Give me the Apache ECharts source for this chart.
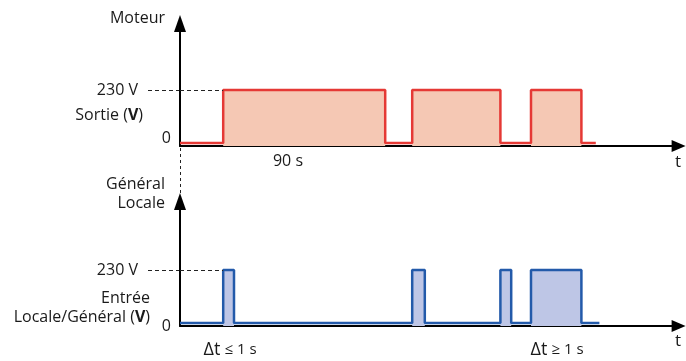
<!DOCTYPE html>
<html><head><meta charset="utf-8">
<script src="https://cdn.jsdelivr.net/npm/echarts@6/dist/echarts.min.js"></script>
<style>html,body{margin:0;padding:0;background:#fff}#c{width:686px;height:361px}</style>
</head><body><div id="c"></div>
<script>
// Motor output (top): transition times (s) and level held from that time
const motorTimes = [0, 24, 114, 129, 178, 195, 223, 231];
const motorLevels = [12, 230, 12, 230, 12, 230, 12, 12];
// Input Locale/Général (bottom)
const inputTimes = [0, 24, 30, 129, 136, 178, 184, 195, 223, 233];
const inputLevels = [12, 230, 12, 230, 12, 230, 12, 230, 12, 12];
const highLevel = 230;
const yTickLabels = ['0'];
const levelLabel = '230 V';

const FONT = '"Open Sans"';
const TXT = '#1a1a1a';
const FS = 16;
const toPts = (ts, vs) => ts.map((t, i) => [t, vs[i]]);
const toFill = (ts, vs) => ts.map((t, i) => [t, vs[i] === highLevel ? highLevel : 0]);

function xAx(gi){
  return {gridIndex: gi, type:'value', min:0, max:277,
    axisLine:{lineStyle:{color:'#000', width:2}, symbol:['none','triangle'], symbolSize:[12,14]},
    axisTick:{show:false}, axisLabel:{show:false}, splitLine:{show:false}};
}
function yAx(gi, max, va){
  return {gridIndex: gi, type:'value', min:0, max:max, interval:230,
    axisLine:{lineStyle:{color:'#000', width:2}, symbol:['none','triangle'], symbolSize:[12,17]},
    axisTick:{show:false}, splitLine:{show:false},
    axisLabel:{margin:9, color:TXT, fontFamily:'Open Sans', fontSize:FS, verticalAlign:va,
      formatter: v => v === 0 ? yTickLabels[0] : ''}};
}
function dashed(riseT){
  return {symbol:['none','none'], silent:true,
    lineStyle:{type:[4,3], color:'#222', width:1},
    label:{show:false},
    data:[[{coord:[0, highLevel]}, {coord:[riseT, highLevel]}]]};
}

const chart = echarts.init(document.getElementById('c'), null, {renderer:'canvas'});
chart.setOption({
  animation:false,
  grid:[
    {left:180, width:498.6, top:23.5, height:122.5},
    {left:180, width:498.6, top:201.5, height:124.5}
  ],
  xAxis:[xAx(0), xAx(1)],
  yAxis:[yAx(0, 503, 'bottom'), yAx(1, 511, 'middle')],
  series:[
    {type:'line', xAxisIndex:0, yAxisIndex:0, step:'end', symbol:'none',
      data: toFill(motorTimes, motorLevels), lineStyle:{width:0},
      areaStyle:{color:'#f5c8b4', opacity:1}, z:1},
    {type:'line', xAxisIndex:0, yAxisIndex:0, step:'end', symbol:'none',
      data: toPts(motorTimes, motorLevels), lineStyle:{width:2.5, color:'#e53935'}, z:3,
      markLine: dashed(motorTimes[1])},
    {type:'line', xAxisIndex:1, yAxisIndex:1, step:'end', symbol:'none',
      data: toFill(inputTimes, inputLevels), lineStyle:{width:0},
      areaStyle:{color:'#bec6e6', opacity:1}, z:1},
    {type:'line', xAxisIndex:1, yAxisIndex:1, step:'end', symbol:'none',
      data: toPts(inputTimes, inputLevels), lineStyle:{width:2.5, color:'#235aaa'}, z:3,
      markLine: dashed(inputTimes[1])}
  ]
});

// dashed extension of the 230 V level left of the y axis, plus its label
const pTop = chart.convertToPixel({gridIndex:0}, [0, highLevel]);
const pBot = chart.convertToPixel({gridIndex:1}, [0, highLevel]);
const pTopZero = chart.convertToPixel({gridIndex:0}, [0, 0]);
const pBotTop = chart.convertToPixel({gridIndex:1}, [0, 511]);
const dashStyle = {stroke:'#222', lineWidth:1, lineDash:[4,3]};
const t = (x, y, text, align, size, extra) => Object.assign({type:'text', x, y,
  style:Object.assign({text, align, verticalAlign:'middle', fill:TXT, font:size+'px '+FONT}, extra||{})});
const bold = {rich:{b:{fontWeight:'bold', fontSize:FS, fontFamily:'Open Sans', fill:TXT}}};
const delta = {rich:{a:{fontSize:18, fontFamily:'Open Sans', fill:TXT}, s:{fontSize:15, fontFamily:'Open Sans', fill:TXT}}};

chart.setOption({
  graphic:[
    {type:'line', shape:{x1:pTop[0]-32, y1:Math.round(pTop[1])+0.5, x2:pTop[0], y2:Math.round(pTop[1])+0.5}, style:dashStyle},
    {type:'line', shape:{x1:pBot[0]-32, y1:Math.round(pBot[1])+0.5, x2:pBot[0], y2:Math.round(pBot[1])+0.5}, style:dashStyle},
    {type:'line', shape:{x1:pTopZero[0]+0.5, y1:pTopZero[1]+2, x2:pTopZero[0]+0.5, y2:pBotTop[1]-8}, style:{stroke:'#222', lineWidth:1, lineDash:[3,3]}},
    t(pTop[0]-42, pTop[1], levelLabel, 'right', FS),
    t(pBot[0]-42, pBot[1], levelLabel, 'right', FS),
    t(165, 18, 'Moteur', 'right', FS),
    t(143, 115, 'Sortie ({b|V})', 'right', FS, bold),
    t(288, 161, '90 s', 'center', FS),
    t(678, 162, 't', 'center', 17),
    t(165, 184, 'Général', 'right', FS),
    t(165, 203, 'Locale', 'right', FS),
    t(150, 298, 'Entrée', 'right', FS),
    t(150, 317, 'Locale/Général ({b|V})', 'right', FS, bold),
    t(230, 350, '{a|Δt} {s|≤ 1 s}', 'center', FS, delta),
    t(557, 350, '{a|Δt} {s|≥ 1 s}', 'center', FS, delta),
    t(678, 341, 't', 'center', 17)
  ]
});
</script></body></html>
